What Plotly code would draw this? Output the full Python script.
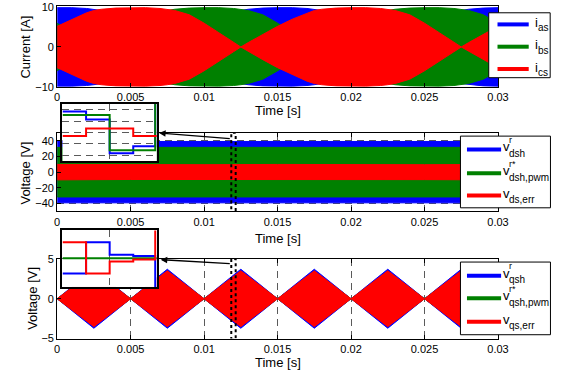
import plotly.graph_objects as go

W, H = 568, 385
def X(p):
    return p / W
def Y(p):
    return 1 - p / H

FONT = "Liberation Sans, Arial, Helvetica, sans-serif"
BLUE, GREEN, RED = "#0000FF", "#008000", "#FF0000"

# ---------------- data ----------------
x_ticks = [0, 0.005, 0.01, 0.015, 0.02, 0.025, 0.03]
x_ticklabels = ["0", "0.005", "0.01", "0.015", "0.02", "0.025", "0.03"]

# panel 1: phase current ripple envelopes [A] (time in ms)
cur_t_ms = [0, 1, 2, 2.5, 3, 4, 5, 6, 7, 7.5, 8, 9, 10, 11, 12, 12.5, 13, 14, 15,
            16, 17, 17.5, 18, 19, 20, 21, 22, 22.5, 23, 24, 25, 26, 27, 27.5, 28, 29, 30]
ias_env = [9.9, 9.9, 9.7, 9.5, 9.2, 8.1, 6.0, 3.6, 1.2, 0.0, 1.1, 3.2, 5.2, 7.0, 8.6, 9.2, 9.5, 9.8, 9.9,
           9.9, 9.7, 9.5, 9.2, 8.1, 6.0, 3.6, 1.2, 0.0, 1.1, 3.2, 5.2, 7.0, 8.6, 9.2, 9.5, 9.8, 9.9]
ibs_env = [6.0, 3.6, 1.2, 0.0, 1.1, 3.2, 5.2, 7.0, 8.6, 9.2, 9.5, 9.8, 9.9, 9.9, 9.7, 9.5, 9.2, 8.1, 6.0,
           3.6, 1.2, 0.0, 1.1, 3.2, 5.2, 7.0, 8.6, 9.2, 9.5, 9.8, 9.9, 9.9, 9.7, 9.5, 9.2, 8.1, 6.0]
ics_env = [5.2, 7.0, 8.6, 9.2, 9.5, 9.8, 9.9, 9.9, 9.7, 9.5, 9.2, 8.1, 6.0, 3.6, 1.2, 0.0, 1.1, 3.2, 5.2,
           7.0, 8.6, 9.2, 9.5, 9.8, 9.9, 9.9, 9.7, 9.5, 9.2, 8.1, 6.0, 3.6, 1.2, 0.0, 1.1, 3.2, 5.2]
cur_yticks = [-10, 0, 10]

# panel 2: d-axis voltage switching band envelopes [V]
vd_t = [0, 0.005, 0.01, 0.015, 0.02, 0.025, 0.03]
vdsh_env = [39.0, 39.0, 39.0, 39.0, 39.0, 39.0, 39.0]
vdsh_pwm_env = [31.5, 31.5, 31.5, 31.5, 31.5, 31.5, 31.5]
vds_err_env = [9.8, 9.3, 9.5, 9.8, 9.3, 9.5, 9.8]
vd_yticks = [-40, -20, 0, 20, 40]

# panel 3: q-axis voltage envelopes [V]
vq_t = [0, 0.0025, 0.005, 0.0075, 0.01, 0.0125, 0.015, 0.0175, 0.02, 0.0225, 0.025, 0.0275, 0.03]
vqsh_env = [0, 3.7, 0, 3.7, 0, 3.7, 0, 3.7, 0, 3.7, 0, 3.7, 0]
vqsh_pwm_env = [0, 3.4, 0, 3.4, 0, 3.4, 0, 3.4, 0, 3.4, 0, 3.4, 0]
vqs_err_env = [0, 3.5, 0, 3.5, 0, 3.5, 0, 3.5, 0, 3.5, 0, 3.5, 0]
vq_yticks = [-5, 0, 5]

# zoom window (dotted box) and inset samples
zoom_t = [0.01185, 0.01215]
ins_t = [0.01185, 0.011925, 0.012, 0.012075, 0.012145, 0.01215]
ins_vdsh = [36.8, 22.7, -36.6, -24.2, 55, 55]
ins_vdsh_pwm = [30.5, 30.5, -31.0, -31.0, 55, 55]
ins_vds_err = [-6.1, 6.8, 6.8, -6.1, -6.1, -6.1]
ins_vqsh = [-2.6, 2.9, 0.7, 0.5, -5.5, -5.5]
ins_vqsh_pwm = [0.1, 0.1, 0.1, 0.1, 0.1, 0.1]
ins_vqs_err = [2.9, -2.6, -0.5, -0.15, 5.5, 5.5]

fig = go.Figure()

def band(t, env, color, xa, ya):
    t = list(t)
    fig.add_trace(go.Scatter(
        x=t + t[::-1], y=list(env) + [-v for v in env[::-1]],
        fill="toself", fillcolor=color, mode="lines",
        line=dict(color=color, width=1), xaxis=xa, yaxis=ya,
        showlegend=False, hoverinfo="skip"))

cur_t = [v / 1000.0 for v in cur_t_ms]
band(cur_t, ias_env, BLUE, "x", "y")
band(cur_t, ibs_env, GREEN, "x", "y")
band(cur_t, ics_env, RED, "x", "y")
band(vd_t, vdsh_env, BLUE, "x2", "y2")
band(vd_t, vdsh_pwm_env, GREEN, "x2", "y2")
band(vd_t, vds_err_env, RED, "x2", "y2")
band(vq_t, vqsh_env, BLUE, "x3", "y3")
band(vq_t, vqsh_pwm_env, GREEN, "x3", "y3")
band(vq_t, vqs_err_env, RED, "x3", "y3")

for vals, col in ((ins_vdsh, BLUE), (ins_vdsh_pwm, GREEN), (ins_vds_err, RED)):
    fig.add_trace(go.Scatter(x=ins_t, y=vals, mode="lines", line=dict(color=col, width=2, shape="hv"),
                             xaxis="x4", yaxis="y4", showlegend=False, hoverinfo="skip"))
for vals, col in ((ins_vqsh, BLUE), (ins_vqsh_pwm, GREEN), (ins_vqs_err, RED)):
    fig.add_trace(go.Scatter(x=ins_t, y=vals, mode="lines", line=dict(color=col, width=2, shape="hv"),
                             xaxis="x5", yaxis="y5", showlegend=False, hoverinfo="skip"))

tickfont = dict(family=FONT, size=11, color="black")
GRID = dict(showgrid=True, gridcolor="#5a5a5a", griddash="7px,5px", gridwidth=1, zeroline=False)

def main_x(anchor):
    return dict(domain=[X(55.5), X(507.5)], anchor=anchor, range=[0, 0.03],
                tickvals=x_ticks, ticktext=x_ticklabels, ticks="inside", ticklen=4,
                tickcolor="black", showline=True, linecolor="black", linewidth=1,
                mirror="ticks", tickfont=tickfont, **GRID)

def main_y(anchor, rng, ticks, top, bottom):
    return dict(domain=[Y(bottom), Y(top)], anchor=anchor, range=rng, tickvals=ticks,
                ticks="inside", ticklen=4, tickcolor="black", showline=True,
                linecolor="black", linewidth=1, mirror="ticks", tickfont=tickfont, **GRID)

def inset_ax(anchor, dom, rng, ticks):
    return dict(domain=dom, anchor=anchor, range=rng, tickvals=ticks, showticklabels=False,
                ticks="", showline=True, linecolor="black", linewidth=2, mirror=True, **GRID)

fig.update_layout(
    width=W, height=H, margin=dict(l=0, r=0, t=0, b=0),
    paper_bgcolor="white", plot_bgcolor="white", showlegend=False,
    xaxis=main_x("y"),
    yaxis=main_y("x", [-10, 10.2], cur_yticks, 0.5, 83.3),
    xaxis2=main_x("y2"),
    yaxis2=main_y("x2", [-50, 50], vd_yticks, 130.9, 212.1),
    xaxis3=main_x("y3"),
    yaxis3=main_y("x3", [-5, 5], vq_yticks, 261, 343.3),
    xaxis4=inset_ax("y4", [X(61), X(157.7)], zoom_t, [0.012]),
    yaxis4=inset_ax("x4", [Y(160), Y(101)], [-50, 50], vd_yticks),
    xaxis5=inset_ax("y5", [X(61), X(157.7)], zoom_t, [0.012]),
    yaxis5=inset_ax("x5", [Y(290), Y(231.7)], [-5, 5], [0]),
)

shapes = []
annotations = []

# dotted zoom boxes
shapes.append(dict(type="rect", xref="x2", yref="y2", x0=zoom_t[0], x1=zoom_t[1], y0=-51.5, y1=50,
                   line=dict(color="black", width=2, dash="dot"), layer="above"))
shapes.append(dict(type="rect", xref="x3", yref="y3", x0=zoom_t[0], x1=zoom_t[1], y0=-5.15, y1=5,
                   line=dict(color="black", width=2, dash="dot"), layer="above"))

# arrows from zoom boxes to insets
annotations.append(dict(xref="x2", yref="y2", axref="x2", ayref="y2", x=0.00694, y=49.8,
                        ax=zoom_t[0], ay=42.5, text="", showarrow=True, arrowhead=2,
                        arrowsize=1, arrowwidth=1.3, arrowcolor="black", standoff=0))
annotations.append(dict(xref="x3", yref="y3", axref="x3", ayref="y3", x=0.00705, y=4.9,
                        ax=zoom_t[0], ay=4.4, text="", showarrow=True, arrowhead=2,
                        arrowsize=1, arrowwidth=1.3, arrowcolor="black", standoff=0))

def txt(x, y, s, size, anchor="center", angle=0):
    annotations.append(dict(xref="paper", yref="paper", x=X(x), y=Y(y), text=s, showarrow=False,
                            xanchor=anchor, yanchor="middle", textangle=angle, borderpad=0,
                            font=dict(family=FONT, size=size, color="black")))

# axis titles
txt(281.5, 108, "Time [s]", 13)
txt(281.5, 240, "Time [s]", 13)
txt(281.5, 368, "Time [s]", 13)
txt(23.5, 42, "Current [A]", 13, angle=-90)
txt(23.5, 172, "Voltage [V]", 13, angle=-90)
txt(30, 302, "Voltage [V]", 13, angle=-90)

# legends (boxed, line samples + stacked sub/superscript labels)
def legbox(x0, x1, y0, y1):
    shapes.append(dict(type="rect", xref="paper", yref="paper", x0=X(x0), x1=X(x1), y0=Y(y1), y1=Y(y0),
                       line=dict(color="black", width=1), fillcolor="white", layer="above"))

def legline(x0, x1, y, col):
    shapes.append(dict(type="line", xref="paper", yref="paper", x0=X(x0), x1=X(x1), y0=Y(y), y1=Y(y),
                       line=dict(color=col, width=4), layer="above"))

legbox(498, 561, 7, 74)
for ly, col, sub in ((19, BLUE, "as"), (42, GREEN, "bs"), (65, RED, "cs")):
    legline(507, 539, ly, col)
    txt(544, ly - 2, "i", 13, anchor="left")
    txt(547.5, ly + 3.5, sub, 10, anchor="left")

def vleg(y0, y1, lines, q):
    legbox(469, 561.3, y0, y1)
    entries = ((BLUE, "r", q + "sh"), (GREEN, "r*", q + "sh,pwm"), (RED, None, q + "s,err"))
    for ly, (col, sup, sub) in zip(lines, entries):
        legline(475.7, 510.7, ly, col)
        txt(512, ly - 2.5, "v", 13, anchor="left")
        if sup:
            txt(517.5, ly - 10, sup, 9, anchor="left")
        txt(517.5, ly + 4, sub, 10, anchor="left")

vleg(134.3, 208.3, (148, 172.7, 195.7), "d")
vleg(264.3, 339.3, (278.3, 301.7, 326), "q")

fig.update_layout(shapes=shapes, annotations=annotations)
fig.write_html("out.html")
